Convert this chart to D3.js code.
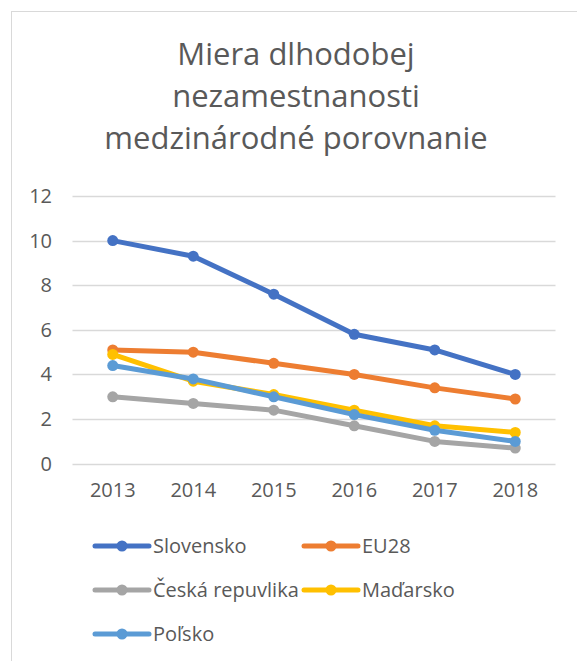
<!DOCTYPE html>
<html>
<head>
<meta charset="utf-8">
<script src="https://cdn.jsdelivr.net/npm/d3@7"></script>
<style>
  body { margin: 0; background: #fff; }
  svg { display: block; font-family: "Open Sans", sans-serif; }
</style>
</head>
<body>
<svg id="chart" width="577" height="661"></svg>
<script>
// --- data ---
const years = ["2013", "2014", "2015", "2016", "2017", "2018"];
const slovensko = [10, 9.3, 7.6, 5.8, 5.1, 4.0];
const eu28 = [5.1, 5.0, 4.5, 4.0, 3.4, 2.9];
const ceska = [3.0, 2.7, 2.4, 1.7, 1.0, 0.7];
const madarsko = [4.9, 3.7, 3.1, 2.4, 1.7, 1.4];
const polsko = [4.4, 3.8, 3.0, 2.2, 1.5, 1.0];
const seriesNames = ["Slovensko", "EU28", "Česká repuvlika", "Maďarsko", "Poľsko"];
const yTicks = [0, 2, 4, 6, 8, 10, 12];
const titleLines = ["Miera dlhodobej", "nezamestnanosti", "medzinárodné porovnanie"];

const series = [slovensko, eu28, ceska, madarsko, polsko].map((v, i) => ({ name: seriesNames[i], values: v }));
const colors = ["#4472C4", "#ED7D31", "#A5A5A5", "#FFC000", "#5B9BD5"];

const svg = d3.select("#chart");
const textColor = "#595959";

// chart frame (runs off the bottom/right edge like the screenshot)
svg.append("rect")
  .attr("x", 11.5).attr("y", 11.5)
  .attr("width", 700).attr("height", 700)
  .attr("fill", "#fff").attr("stroke", "#D9D9D9").attr("stroke-width", 1);

// title
svg.append("g").selectAll("text").data(titleLines).join("text")
  .attr("x", 296).attr("y", (d, i) => 65 + i * 42)
  .attr("text-anchor", "middle")
  .attr("fill", textColor).attr("font-size", 31)
  .text(d => d);

// scales
const x = d3.scaleBand().domain(years).range([72.5, 555.5]);
const y = d3.scaleLinear().domain([0, 12]).range([463.7, 196]);

// gridlines
svg.append("g").selectAll("line").data(yTicks).join("line")
  .attr("x1", 72.5).attr("x2", 555.5)
  .attr("y1", d => Math.round(y(d)) + 0.5).attr("y2", d => Math.round(y(d)) + 0.5)
  .attr("stroke", "#D9D9D9").attr("stroke-width", 1.5);

// y axis labels
const yAxis = svg.append("g")
  .attr("transform", "translate(52,0)")
  .call(d3.axisLeft(y).tickValues(yTicks).tickSize(0).tickPadding(0));
yAxis.select(".domain").remove();
yAxis.selectAll("text").attr("fill", textColor).attr("font-size", 20)
  .attr("font-family", "Open Sans, sans-serif");

// x axis labels
const xAxis = svg.append("g")
  .attr("transform", "translate(0,483)")
  .call(d3.axisBottom(x).tickSize(0).tickPadding(0));
xAxis.select(".domain").remove();
xAxis.selectAll("text").attr("fill", textColor).attr("font-size", 20)
  .attr("font-family", "Open Sans, sans-serif");

// lines + markers
const cx = d => x(d) + x.bandwidth() / 2;
const line = d3.line().x((v, i) => cx(years[i])).y(v => y(v));

series.forEach((s, k) => {
  const g = svg.append("g");
  g.append("path").datum(s.values)
    .attr("d", line).attr("fill", "none")
    .attr("stroke", colors[k]).attr("stroke-width", 5)
    .attr("stroke-linejoin", "round").attr("stroke-linecap", "round");
  g.selectAll("circle").data(s.values).join("circle")
    .attr("cx", (v, i) => cx(years[i])).attr("cy", v => y(v))
    .attr("r", 5.5).attr("fill", colors[k]);
});

// legend
const legX = [95, 304];
const legY = [546, 590, 634];
const legend = svg.append("g").selectAll("g").data(series).join("g")
  .attr("transform", (d, i) => `translate(${legX[i % 2]},${legY[Math.floor(i / 2)]})`);
legend.append("line")
  .attr("x1", 0).attr("x2", 54).attr("y1", 0).attr("y2", 0)
  .attr("stroke", (d, i) => colors[i]).attr("stroke-width", 5)
  .attr("stroke-linecap", "round");
legend.append("circle")
  .attr("cx", 27).attr("cy", 0).attr("r", 5.5)
  .attr("fill", (d, i) => colors[i]);
legend.append("text")
  .attr("x", 58).attr("y", 7)
  .attr("fill", textColor).attr("font-size", 20)
  .text(d => d.name);
</script>
</body>
</html>
